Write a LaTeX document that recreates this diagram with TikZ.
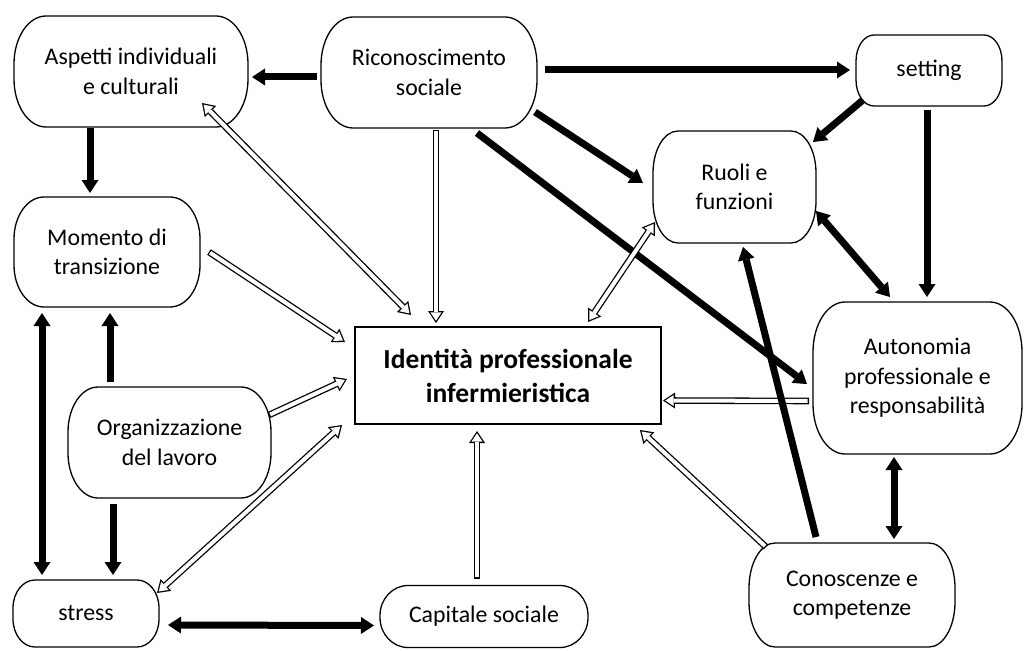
\documentclass[tikz,border=0pt]{standalone}
\usepackage{fontspec}
\setmainfont{Carlito}
\usetikzlibrary{arrows.meta}
\newcommand\rbox[3]{%
 \draw[bl] ([xshift=#2]#1.north west) -- ([xshift=-#2]#1.north east)
   arc[start angle=90,end angle=0,x radius=#2,y radius=#3] -- ([yshift=#3]#1.south east)
   arc[start angle=0,end angle=-90,x radius=#2,y radius=#3] -- ([xshift=#2]#1.south west)
   arc[start angle=270,end angle=180,x radius=#2,y radius=#3] -- ([yshift=-#3]#1.north west)
   arc[start angle=180,end angle=90,x radius=#2,y radius=#3] -- cycle;}
\newcommand\hollow[7]{%
 \draw[ho#1] ([shift={(#3,#4)}]#2.center) -- ([shift={(#6,#7)}]#5.center);
 \draw[hi#1] ([shift={(#3,#4)}]#2.center) -- ([shift={(#6,#7)}]#5.center);}
\newcommand\solidarr[7]{%
 \draw[#1] ([shift={(#3,#4)}]#2.center) -- ([shift={(#6,#7)}]#5.center);}
\tikzset{
 nb/.style={inner sep=0pt, outer sep=0pt, align=center, font=\fontsize{23.8}{29.5}\selectfont},
 bl/.style={line width=1.3pt, line join=round},
 thkA/.style={line width=7pt, -{Triangle[width=17pt,length=13pt,line width=0pt]}},
 thkB/.style={line width=7pt, {Triangle[width=17pt,length=13pt,line width=0pt]}-{Triangle[width=17pt,length=13pt,line width=0pt]}},
 hoA/.style={line width=6.6pt, -{Triangle[width=16pt,length=12pt,line width=0pt]}},
 hiA/.style={white, line width=4pt, shorten <=1.3pt, shorten >=2.3pt, -{Triangle[width=11.2pt,length=8.4pt,line width=0pt]}},
 hoB/.style={line width=6.6pt, {Triangle[width=16pt,length=12pt,line width=0pt]}-{Triangle[width=16pt,length=12pt,line width=0pt]}},
 hiB/.style={white, line width=4pt, shorten <=2.3pt, shorten >=2.3pt, {Triangle[width=11.2pt,length=8.4pt,line width=0pt]}-{Triangle[width=11.2pt,length=8.4pt,line width=0pt]}},
}
\begin{document}
\begin{tikzpicture}[x=1pt,y=-1pt]
\useasboundingbox[fill=white] (0,0) rectangle (1027,650);
% nodes
\node[nb, minimum width=234pt, minimum height=111pt] (asp) at (131,71.5) {Aspetti individuali\\e culturali};
\node[nb, minimum width=216pt, minimum height=111pt] (ric) at (429,72.5) {Riconoscimento\\sociale};
\node[nb, minimum width=146pt, minimum height=71pt] (set) at (929,70.5) {setting};
\node[nb, minimum width=163pt, minimum height=112pt] (ruo) at (734.5,187) {Ruoli e\\funzioni};
\node[nb, minimum width=186pt, minimum height=110pt] (mom) at (107,252) {Momento di\\transizione};
\node[nb, draw, line width=1.8pt, minimum width=306pt, minimum height=97pt, font=\fontsize{27.5}{34}\selectfont\bfseries] (ide) at (508,375.5) {Identità professionale\\infermieristica};
\node[nb, minimum width=209pt, minimum height=152pt] (aut) at (917.5,378) {Autonomia\\professionale e\\responsabilità};
\node[nb, minimum width=203pt, minimum height=111pt] (org) at (169.5,442.5) {Organizzazione\\del lavoro};
\node[nb, minimum width=146pt, minimum height=67pt] (str) at (86,613.5) {stress};
\node[nb, minimum width=208pt, minimum height=62pt] (cap) at (484,616.5) {Capitale sociale};
\node[nb, minimum width=206pt, minimum height=104pt] (con) at (852,595) {Conoscenze e\\competenze};
% borders
\rbox{asp}{32pt}{48pt}
\rbox{ric}{32pt}{48pt}
\rbox{set}{18pt}{26pt}
\rbox{ruo}{25pt}{42pt}
\rbox{mom}{30pt}{42pt}
\rbox{aut}{32pt}{50pt}
\rbox{org}{30pt}{45pt}
\rbox{str}{22pt}{28pt}
\rbox{cap}{28pt}{30pt}
\rbox{con}{26pt}{45pt}
% hollow arrows
\hollow{B}{asp}{71}{31.5}{ide}{-97}{-60.5}
\hollow{A}{ric}{7}{57.5}{ide}{-72}{-52.5}
\hollow{A}{mom}{102}{0}{ide}{-163}{-33.5}
\hollow{A}{org}{99.5}{-27.5}{ide}{-161}{3.5}
\hollow{B}{str}{71}{-20.5}{ide}{-166}{49.5}
\hollow{A}{cap}{-7}{-38}{ide}{-31}{55.5}
\hollow{A}{con}{-86}{-48}{ide}{132}{54.5}
\hollow{A}{aut}{-108.5}{23}{ide}{155}{25}
% thick arrows
\solidarr{thkA}{ric}{-112}{4.5}{asp}{121}{5.5}
\solidarr{thkA}{ric}{116}{-2.5}{set}{-79}{-0.5}
\solidarr{thkA}{asp}{-41}{56.5}{mom}{-17}{-59}
\solidarr{thkA}{set}{-66}{29.5}{ruo}{78.5}{-45}
\solidarr{thkA}{ric}{106}{39.5}{ruo}{-91.5}{-4}
\solidarr{thkA}{ric}{48}{60.5}{aut}{-110.5}{6}
\solidarr{thkA}{set}{-2}{39.5}{aut}{9.5}{-81}
\solidarr{thkB}{ruo}{81.5}{24}{aut}{-27.5}{-81}
\solidarr{thkA}{con}{-36}{-58}{ruo}{8.5}{60}
\solidarr{thkB}{aut}{-23.5}{79}{con}{42}{-56}
\solidarr{thkA}{org}{-59.5}{-60.5}{mom}{3}{61}
\solidarr{thkB}{mom}{-65}{61}{str}{-44}{-38.5}
\solidarr{thkA}{org}{-56.5}{61.5}{str}{27}{-38.5}
\solidarr{thkB}{str}{82}{11.5}{cap}{-110}{9}
% hollow on top
\hollow{B}{ruo}{-79.5}{35}{ide}{80}{-53.5}
\end{tikzpicture}
\end{document}
